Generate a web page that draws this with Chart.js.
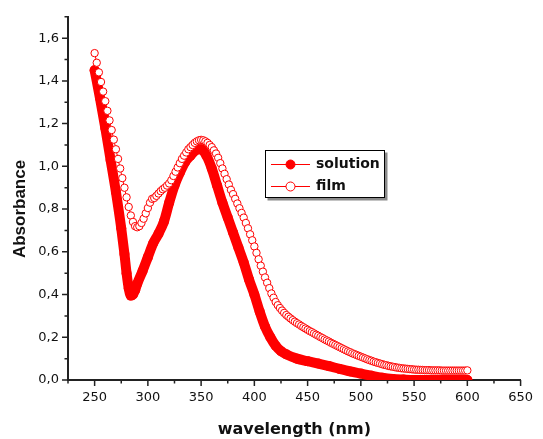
<!DOCTYPE html>
<html>
<head>
<meta charset="utf-8">
<script src="https://cdn.jsdelivr.net/npm/chart.js@4.4.1/dist/chart.umd.min.js"></script>
<style>
    html, body { margin: 0; padding: 0; background: #fff; }
</style>
</head>
<body>
<canvas id="chart" width="543" height="439"></canvas>
<script>
// 溶液：波长 (nm) 与吸光度
const solutionWavelengths = [
    250, 255, 260, 265, 270, 275, 278, 280, 282, 284,
    286, 288, 290, 295, 300, 305, 310, 315, 320, 325,
    330, 335, 340, 345, 350, 355, 360, 365, 370, 375,
    380, 385, 390, 395, 400, 405, 410, 415, 420, 425,
    430, 440, 450, 460, 470, 480, 490, 500, 510, 520,
    530, 540, 550, 575, 600
];
const solutionAbsorbance = [
    1.45, 1.32, 1.18, 1.03, 0.88, 0.71, 0.59, 0.50, 0.43, 0.395,
    0.40, 0.42, 0.45, 0.51, 0.575, 0.64, 0.685, 0.74, 0.83, 0.91,
    0.97, 1.02, 1.05, 1.075, 1.08, 1.05, 0.99, 0.91, 0.83, 0.76,
    0.69, 0.62, 0.55, 0.47, 0.40, 0.32, 0.25, 0.20, 0.16, 0.135,
    0.12, 0.10, 0.088, 0.077, 0.065, 0.052, 0.04, 0.03, 0.02, 0.011,
    0.005, 0.002, 0, 0, 0
];

// 薄膜：从 250 nm 起每 2 nm 一个点
const filmStart = 250;
const filmStep = 2;
const filmAbsorbance = [
    1.53, 1.485, 1.44, 1.395, 1.35, 1.305, 1.26, 1.215, 1.17, 1.125,
    1.08, 1.035, 0.99, 0.945, 0.90, 0.855, 0.81, 0.77, 0.74, 0.72,
    0.715, 0.72, 0.735, 0.755, 0.78, 0.805, 0.83, 0.848, 0.852, 0.862,
    0.873, 0.884, 0.893, 0.90, 0.91, 0.92, 0.935, 0.955, 0.975, 0.995,
    1.015, 1.035, 1.05, 1.065, 1.08, 1.09, 1.10, 1.11, 1.117, 1.122,
    1.124, 1.122, 1.117, 1.11, 1.10, 1.09, 1.075, 1.06, 1.04, 1.015,
    0.99, 0.965, 0.94, 0.915, 0.89, 0.87, 0.848, 0.826, 0.804, 0.782,
    0.76, 0.735, 0.71, 0.682, 0.654, 0.625, 0.595, 0.565, 0.535, 0.507,
    0.48, 0.455, 0.43, 0.405, 0.385, 0.365, 0.35, 0.337, 0.325, 0.314,
    0.304, 0.296, 0.288, 0.28, 0.273, 0.266, 0.26, 0.253, 0.247, 0.241,
    0.235, 0.229, 0.224, 0.218, 0.212, 0.207, 0.201, 0.196, 0.19, 0.185,
    0.18, 0.174, 0.169, 0.164, 0.159, 0.154, 0.149, 0.144, 0.139, 0.134,
    0.13, 0.125, 0.121, 0.117, 0.113, 0.109, 0.105, 0.101, 0.097, 0.093,
    0.09, 0.086, 0.083, 0.08, 0.077, 0.074, 0.071, 0.069, 0.066, 0.064,
    0.062, 0.06, 0.058, 0.057, 0.055, 0.054, 0.053, 0.052, 0.051, 0.05,
    0.049, 0.048, 0.048, 0.047, 0.047, 0.046, 0.046, 0.046, 0.045, 0.045,
    0.045, 0.045, 0.045, 0.044, 0.044, 0.044, 0.044, 0.044, 0.044, 0.044,
    0.044, 0.044, 0.044, 0.044, 0.044, 0.045
];

// 刻度
const xTicks = [250, 300, 350, 400, 450, 500, 550, 600, 650];
const xMinorTicks = [225, 275, 325, 375, 425, 475, 525, 575, 625];
const yTicks = [0, 0.2, 0.4, 0.6, 0.8, 1.0, 1.2, 1.4, 1.6];
const yMinorTicks = [0.1, 0.3, 0.5, 0.7, 0.9, 1.1, 1.3, 1.5, 1.7];

const seriesNames = ['solution', 'film'];
const xTitle = 'wavelength (nm)';
const yTitle = 'Absorbance';

const RED = '#ff0000';
const AXIS = '#222';
const TEXT = '#111';

const solutionPoints = solutionWavelengths.map((w, i) => ({ x: w, y: solutionAbsorbance[i] }));
const filmPoints = filmAbsorbance.map((a, i) => ({ x: filmStart + i * filmStep, y: a }));

// 刻度线、轴标题和图例 (Origin 风格)
const originStyle = {
    id: 'originStyle',
    afterDraw(chart) {
        const ctx = chart.ctx;
        const xs = chart.scales.x;
        const ys = chart.scales.y;
        const area = chart.chartArea;

        ctx.save();
        ctx.strokeStyle = AXIS;
        ctx.lineWidth = 1.5;
        ctx.beginPath();
        xTicks.forEach(v => {
            const px = xs.getPixelForValue(v);
            ctx.moveTo(px, area.bottom); ctx.lineTo(px, area.bottom + 6);
        });
        xMinorTicks.forEach(v => {
            const px = xs.getPixelForValue(v);
            ctx.moveTo(px, area.bottom); ctx.lineTo(px, area.bottom + 3.5);
        });
        yTicks.forEach(v => {
            const py = ys.getPixelForValue(v);
            ctx.moveTo(area.left, py); ctx.lineTo(area.left - 6, py);
        });
        yMinorTicks.forEach(v => {
            const py = ys.getPixelForValue(v);
            ctx.moveTo(area.left, py); ctx.lineTo(area.left - 3.5, py);
        });
        ctx.stroke();

        // 轴标题
        ctx.fillStyle = TEXT;
        ctx.font = 'bold 16px "DejaVu Sans"';
        ctx.textAlign = 'center';
        ctx.textBaseline = 'alphabetic';
        ctx.fillText(xTitle, (area.left + area.right) / 2, 434);

        ctx.save();
        ctx.translate(25, 209);
        ctx.rotate(-Math.PI / 2);
        ctx.font = 'bold 17px "Liberation Sans"';
        ctx.fillText(yTitle, 0, 0);
        ctx.restore();

        // 图例
        const box = { x: 265.5, y: 150.5, w: 119, h: 47 };
        ctx.fillStyle = '#8a8a8a';
        ctx.fillRect(box.x + 2, box.y + 2, box.w + 1, box.h + 1);
        ctx.fillStyle = '#fff';
        ctx.fillRect(box.x, box.y, box.w, box.h);
        ctx.strokeStyle = '#000';
        ctx.lineWidth = 1;
        ctx.strokeRect(box.x, box.y, box.w, box.h);

        const rows = [164.5, 186.5];
        rows.forEach((ry, i) => {
            ctx.strokeStyle = RED;
            ctx.lineWidth = 1;
            ctx.beginPath();
            ctx.moveTo(271, ry); ctx.lineTo(310, ry);
            ctx.stroke();
            ctx.beginPath();
            ctx.arc(290.5, ry, 4.5, 0, Math.PI * 2);
            ctx.fillStyle = i === 0 ? RED : '#fff';
            ctx.fill();
            ctx.stroke();
            ctx.fillStyle = TEXT;
            ctx.font = 'bold 14px "DejaVu Sans"';
            ctx.textAlign = 'left';
            ctx.textBaseline = 'middle';
            ctx.fillText(seriesNames[i], 316, ry);
        });
        ctx.restore();
    }
};

const ctx = document.getElementById('chart').getContext('2d');
new Chart(ctx, {
    type: 'line',
    data: {
        datasets: [
            {
                label: seriesNames[1],
                data: filmPoints,
                order: 0,
                borderColor: RED,
                borderWidth: 1,
                pointRadius: 3.7,
                pointBorderWidth: 1,
                pointBorderColor: RED,
                pointBackgroundColor: '#fff',
                clip: 0
            },
            {
                label: seriesNames[0],
                data: solutionPoints,
                order: 1,
                borderColor: RED,
                borderWidth: 10,
                borderCapStyle: 'round',
                borderJoinStyle: 'round',
                cubicInterpolationMode: 'monotone',
                pointRadius: 5,
                pointBorderWidth: 0,
                pointBackgroundColor: RED,
                clip: 0
            }
        ]
    },
    options: {
        responsive: false,
        animation: false,
        devicePixelRatio: 1,
        layout: { padding: { left: 0, right: 13, top: 15, bottom: 0 } },
        plugins: {
            legend: { display: false },
            tooltip: { enabled: false }
        },
        scales: {
            x: {
                type: 'linear',
                min: 225,
                max: 650,
                afterBuildTicks: s => { s.ticks = xTicks.map(v => ({ value: v })); },
                afterFit: s => { s.height = 59; },
                grid: { display: false, drawTicks: false },
                border: { display: true, color: AXIS, width: 2 },
                ticks: {
                    padding: 10,
                    autoSkip: false,
                    maxRotation: 0,
                    color: TEXT,
                    font: { family: 'DejaVu Sans', size: 13 },
                    callback: v => String(v)
                }
            },
            y: {
                min: 0,
                max: 1.7,
                afterBuildTicks: s => { s.ticks = yTicks.map(v => ({ value: v })); },
                afterFit: s => { s.width = 68; },
                grid: { display: false, drawTicks: false },
                border: { display: true, color: AXIS, width: 2 },
                ticks: {
                    padding: 9,
                    color: TEXT,
                    font: { family: 'DejaVu Sans', size: 13 },
                    callback: v => v.toFixed(1).replace('.', ',')
                }
            }
        }
    },
    plugins: [originStyle]
});
</script>
</body>
</html>
